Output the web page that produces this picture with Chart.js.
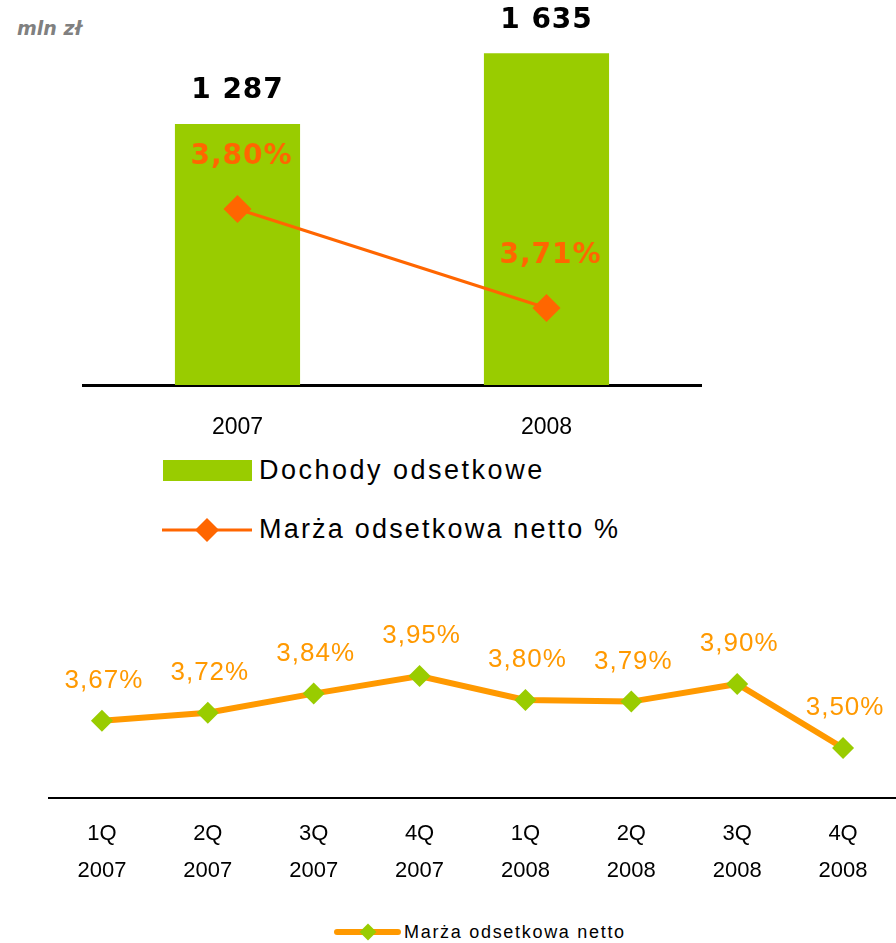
<!DOCTYPE html>
<html>
<head>
<meta charset="utf-8">
<script src="https://cdn.jsdelivr.net/npm/chart.js@4.4.0/dist/chart.umd.min.js"></script>
<style>
  body { margin: 0; background: #fff; width: 896px; height: 943px; position: relative; overflow: hidden; font-family: "Liberation Sans", Arial, sans-serif; }
  #top { position: absolute; left: 0; top: 0; }
  #bottom { position: absolute; left: 0; top: 590px; }
  .unit { position: absolute; left: 17px; top: 17px; font: italic bold 19px "DejaVu Sans", Verdana, sans-serif; color: #808080; }
  .leg { position: absolute; display: flex; align-items: center; color: #000; }
  .box { width: 89px; height: 21px; background: #99CC00; }
  .lineicon { position: relative; width: 90px; height: 30px; }
  .lineicon .ln { position: absolute; left: 0; right: 0; top: 50%; transform: translateY(-50%); }
  .lineicon .dm { position: absolute; left: 50%; top: 50%; transform: translate(-50%, -50%) rotate(45deg); }
</style>
</head>
<body>
<div class="unit">mln zł</div>
<canvas id="top" width="896" height="445"></canvas>
<div class="leg" style="left:163px; top:455px; font-size:27px; letter-spacing:2.5px;">
  <div class="box"></div><span style="margin-left:7px">Dochody odsetkowe</span>
</div>
<div class="leg" style="left:162px; top:514px; font-size:27px; letter-spacing:2.2px;">
  <div class="lineicon"><div class="ln" style="height:3px;background:#FF6600"></div><div class="dm" style="width:17px;height:17px;background:#FF6600"></div></div>
  <span style="margin-left:7px">Marża odsetkowa netto %</span>
</div>
<canvas id="bottom" width="896" height="300"></canvas>
<div class="leg" style="left:334px; top:920px; font-size:18px; letter-spacing:1.7px;">
  <div class="lineicon" style="width:67px;height:24px"><div class="ln" style="height:6px;border-radius:3px;background:#FF9900"></div><div class="dm" style="width:12px;height:12px;background:#99CC00"></div></div>
  <span style="margin-left:3px">Marża odsetkowa netto</span>
</div>
<script>
// dane - wykres roczny
const years = ['2007', '2008'];
const income = [1287, 1635];
const marginYear = [3.80, 3.71];

// dane - wykres kwartalny
const quarters = [['1Q', '2007'], ['2Q', '2007'], ['3Q', '2007'], ['4Q', '2007'],
                  ['1Q', '2008'], ['2Q', '2008'], ['3Q', '2008'], ['4Q', '2008']];
const marginQuarter = [3.67, 3.72, 3.84, 3.95, 3.80, 3.79, 3.90, 3.50];

function fmtThousands(v) {
    return String(v).replace(/\B(?=(\d{3})+(?!\d))/g, ' ');
}
function fmtPct(v) {
    return v.toFixed(2).replace('.', ',') + '%';
}

const topLabels = {
    id: 'topLabels',
    afterDatasetsDraw(chart) {
        const ctx = chart.ctx;
        ctx.save();
        ctx.textAlign = 'center';
        ctx.textBaseline = 'middle';
        ctx.font = 'bold 28px "DejaVu Sans", Verdana, sans-serif';
        ctx.letterSpacing = '1px';
        chart.getDatasetMeta(0).data.forEach((bar, i) => {
            ctx.fillStyle = '#000';
            ctx.fillText(fmtThousands(income[i]), bar.x, bar.y - 33);
        });
        chart.getDatasetMeta(1).data.forEach((pt, i) => {
            ctx.fillStyle = '#FF6600';
            ctx.fillText(fmtPct(marginYear[i]), pt.x + 4, pt.y - 52);
        });
        ctx.restore();
    }
};

new Chart(document.getElementById('top'), {
    type: 'bar',
    data: {
        labels: years,
        datasets: [{
            label: 'Dochody odsetkowe',
            data: income,
            backgroundColor: '#99CC00',
            categoryPercentage: 1,
            barPercentage: 0.405,
            yAxisID: 'y',
            order: 1
        }, {
            type: 'line',
            label: 'Marża odsetkowa netto %',
            data: marginYear,
            borderColor: '#FF6600',
            borderWidth: 3,
            pointStyle: 'rectRot',
            pointRadius: 14,
            pointBackgroundColor: '#FF6600',
            pointBorderWidth: 0,
            yAxisID: 'y2',
            order: 0
        }]
    },
    options: {
        responsive: false,
        animation: false,
        layout: { autoPadding: false, padding: { left: 83, right: 195, top: 0, bottom: 0 } },
        plugins: { legend: { display: false }, tooltip: { enabled: false } },
        scales: {
            x: {
                grid: { display: false, drawTicks: false },
                border: { color: '#000', width: 3 },
                ticks: { color: '#000', padding: 29, font: { family: '"Liberation Sans", Arial', size: 23 } },
                afterFit(s) { s.height = 60; }
            },
            y: { display: false, min: 0, max: 1898 },
            y2: { display: false, min: 3.64, max: 3.99 }
        }
    },
    plugins: [topLabels]
});

const bottomLabels = {
    id: 'bottomLabels',
    afterDatasetsDraw(chart) {
        const ctx = chart.ctx;
        ctx.save();
        ctx.textAlign = 'center';
        ctx.textBaseline = 'middle';
        ctx.font = '26px "Liberation Sans", Arial, sans-serif';
        ctx.letterSpacing = '1px';
        ctx.fillStyle = '#FF9900';
        chart.getDatasetMeta(0).data.forEach((pt, i) => {
            ctx.fillText(fmtPct(marginQuarter[i]), pt.x + 2, pt.y - 40);
        });
        ctx.restore();
    }
};

new Chart(document.getElementById('bottom'), {
    type: 'line',
    data: {
        labels: quarters,
        datasets: [{
            label: 'Marża odsetkowa netto',
            data: marginQuarter,
            borderColor: '#FF9900',
            borderWidth: 6,
            pointStyle: 'rectRot',
            pointRadius: 11,
            pointBackgroundColor: '#99CC00',
            pointBorderWidth: 0
        }]
    },
    options: {
        responsive: false,
        animation: false,
        layout: { autoPadding: false, padding: { left: 49, right: 0, top: 0, bottom: 0 } },
        plugins: { legend: { display: false }, tooltip: { enabled: false } },
        scales: {
            x: {
                offset: true,
                grid: { display: false, drawTicks: false },
                border: { color: '#000', width: 2 },
                ticks: {
                    color: '#000', padding: 18, autoSkip: false, maxRotation: 0,
                    font: { family: '"Liberation Sans", Arial', size: 22, lineHeight: 1.65 }
                },
                afterFit(s) { s.height = 92; }
            },
            y: { display: false, min: 3.1875, max: 4.4875 }
        }
    },
    plugins: [bottomLabels]
});
</script>
</body>
</html>
